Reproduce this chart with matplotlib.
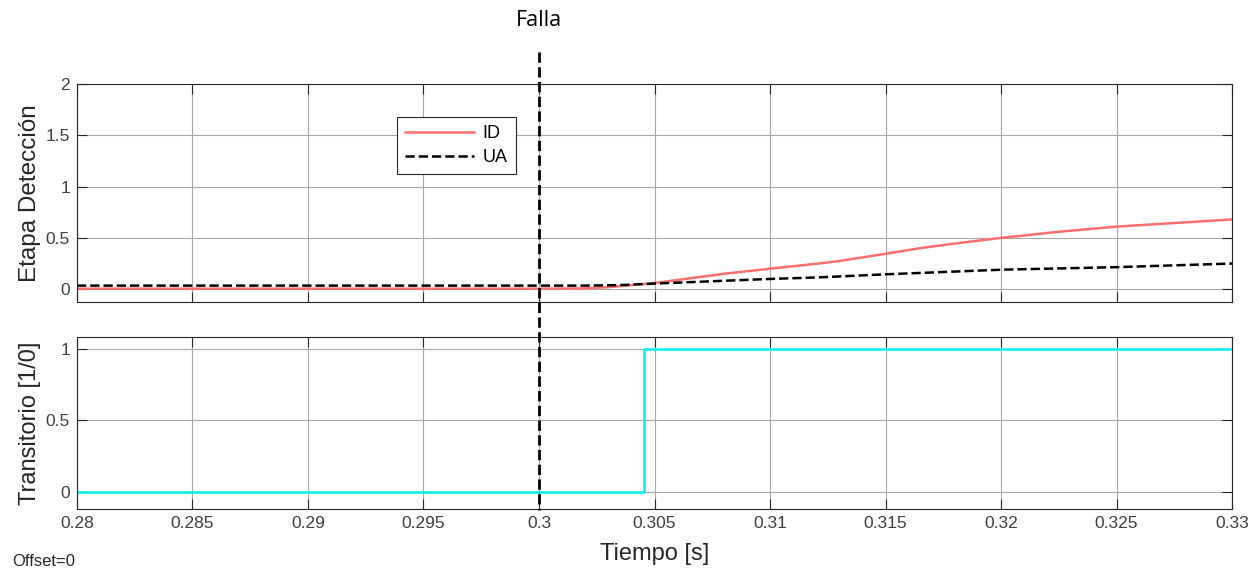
import matplotlib
matplotlib.use("Agg")
from matplotlib import pyplot as plt
from matplotlib import transforms

plt.rcParams["font.family"] = ["Liberation Sans", "DejaVu Sans"]

# ID / UA detection stage outputs
id_time = [0.28, 0.30, 0.302, 0.303, 0.304, 0.305, 0.3065, 0.308, 0.31, 0.3121, 0.313,
           0.315, 0.3165, 0.318, 0.32, 0.3225, 0.325, 0.3275, 0.33]
id_values = [0.005, 0.005, 0.008, 0.02, 0.04, 0.06, 0.105, 0.15, 0.2, 0.25, 0.275,
             0.345, 0.4, 0.445, 0.5, 0.56, 0.61, 0.645, 0.68]

ua_time = [0.28, 0.302, 0.3035, 0.305, 0.31, 0.3121, 0.315, 0.32, 0.325, 0.33]
ua_values = [0.035, 0.035, 0.04, 0.055, 0.1, 0.115, 0.145, 0.19, 0.215, 0.25]

# transient flag (step)
flag_time = [0.28, 0.30454, 0.33]
flag_values = [0, 1, 1]

fault_time = 0.3
x_ticks = [0.28, 0.285, 0.29, 0.295, 0.3, 0.305, 0.31, 0.315, 0.32, 0.325, 0.33]
x_tick_labels = ["0.28", "0.285", "0.29", "0.295", "0.3", "0.305", "0.31", "0.315", "0.32", "0.325", "0.33"]

fig = plt.figure(figsize=(12.6, 5.73), dpi=100)
ax1 = fig.add_axes([0.0611, 0.4729, 0.9167, 0.3805])
ax2 = fig.add_axes([0.0611, 0.1117, 0.9167, 0.3002])

text_col = "#262626"
tick_col = "#404040"

for ax in (ax1, ax2):
    ax.set_xlim(0.28, 0.33)
    ax.set_xticks(x_ticks)
    ax.grid(True, color="#a8a8a8", linewidth=0.8)
    ax.set_axisbelow(True)
    ax.tick_params(direction="in", top=True, right=True, length=7, width=0.8,
                   color=text_col, labelsize=12.5, labelcolor=tick_col, pad=5)
    for sp in ax.spines.values():
        sp.set_color(text_col)
        sp.set_linewidth(0.8)

ax1.plot(id_time, id_values, color="#ff6e6e", linewidth=1.8, label="ID")
ax1.plot(ua_time, ua_values, color="black", linewidth=1.8, linestyle="--", label="UA")
ax1.set_ylim(-0.125, 2)
ax1.set_yticks([0, 0.5, 1, 1.5, 2])
ax1.set_yticklabels(["0", "0.5", "1", "1.5", "2"])
ax1.set_xticklabels([])
ax1.set_ylabel("Etapa Detección", fontsize=17.5, color=text_col)
ax1.yaxis.set_label_coords(-0.031, 0.5)
leg = ax1.legend(loc="upper left", bbox_to_anchor=(0.277, 0.849), fontsize=13,
                 fancybox=False, framealpha=1, edgecolor=text_col, handlelength=3.8,
                 handletextpad=0.5, borderpad=0.45, labelspacing=0.4, borderaxespad=0)
leg.get_frame().set_linewidth(0.8)

ax2.plot(flag_time, flag_values, color="#00f0f0", linewidth=1.8, drawstyle="steps-post")
ax2.set_ylim(-0.119, 1.084)
ax2.set_yticks([0, 0.5, 1])
ax2.set_yticklabels(["0", "0.5", "1"])
ax2.set_xticklabels(x_tick_labels)
ax2.set_ylabel("Transitorio [1/0]", fontsize=17, color=text_col)
ax2.yaxis.set_label_coords(-0.031, 0.5)
ax2.set_xlabel("Tiempo [s]", fontsize=17, color=text_col)
ax2.xaxis.set_label_coords(0.5, -0.195)

# fault marker across both panels
trans = transforms.blended_transform_factory(ax1.transData, fig.transFigure)
fig.add_artist(plt.Line2D([fault_time, fault_time], [1 - 52 / 573, 1 - 510 / 573],
                          transform=trans, color="black", linewidth=2, linestyle="--"))
fig.text(fault_time, 1 - 20 / 573, "Falla", transform=trans, ha="center", va="center",
         fontsize=15.5, family=["Open Sans", "DejaVu Sans"], color="black")

fig.text(12 / 1260, 1 - 562 / 573, "Offset=0", ha="left", va="center", fontsize=12, color=text_col)

fig.savefig("out.png", dpi=100)
